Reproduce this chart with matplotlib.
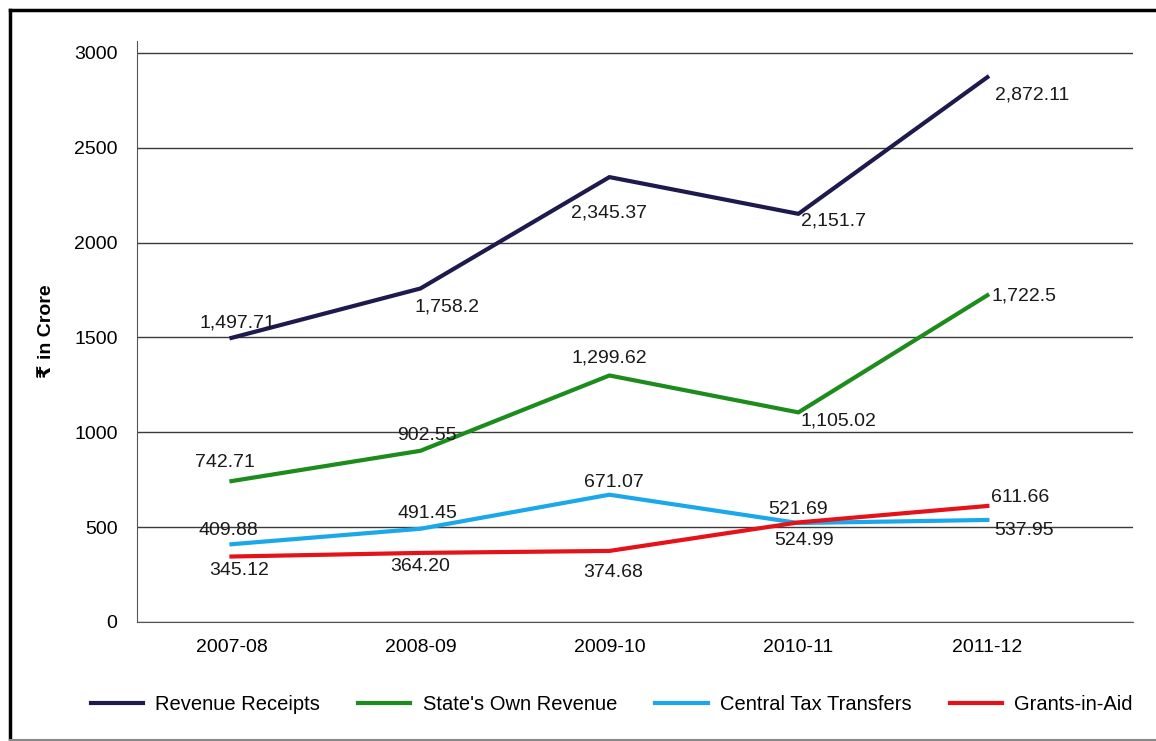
import numpy as np
import matplotlib.pyplot as plt
from matplotlib.lines import Line2D

plt.rcParams["font.family"] = ["Liberation Sans", "DejaVu Sans"]

years = ["2007-08", "2008-09", "2009-10", "2010-11", "2011-12"]
revenue_receipts = [1497.71, 1758.2, 2345.37, 2151.7, 2872.11]
states_own = [742.71, 902.55, 1299.62, 1105.02, 1722.5]
central_tax = [409.88, 491.45, 671.07, 521.69, 537.95]
grants = [345.12, 364.20, 374.68, 524.99, 611.66]

rr_labels = ["1,497.71", "1,758.2", "2,345.37", "2,151.7", "2,872.11"]
so_labels = ["742.71", "902.55", "1,299.62", "1,105.02", "1,722.5"]
ct_labels = ["409.88", "491.45", "671.07", "521.69", "537.95"]
ga_labels = ["345.12", "364.20", "374.68", "524.99", "611.66"]

fig = plt.figure(figsize=(11.56, 7.41), dpi=100)
ax = fig.add_axes([0.1185, 0.1606, 0.980 - 0.1185, 0.9447 - 0.1606])

x = np.arange(len(years))

# grid first so lines sit on top
ax.set_yticks([0, 500, 1000, 1500, 2000, 2500, 3000])
ax.yaxis.grid(True, color="#3a3a3a", linewidth=1.0)
ax.set_axisbelow(True)

ax.plot(x, revenue_receipts, color="#1e1a4e", linewidth=3, label="Revenue Receipts")
ax.plot(x, states_own, color="#1c8c1c", linewidth=3, label="State's Own Revenue")
ax.plot(x, central_tax, color="#1ba8ea", linewidth=3, label="Central Tax Transfers")
ax.plot(x, grants, color="#e5121a", linewidth=3, label="Grants-in-Aid")

# label offsets in pixels (dx, dy)
rr_off = [(6, 15), (27, -19), (0, -36), (35, -7), (45, -18)]
so_off = [(-7, 19), (6, 15), (0, 17), (40, -9), (37, -1)]
ct_off = [(-3, 14), (7, 15), (4, 12), (0, 14), (37, -11)]
ga_off = [(8, -14), (0, -14), (4, -22), (6, -18), (33, 8)]

for vals, labs, offs in [(revenue_receipts, rr_labels, rr_off),
                         (states_own, so_labels, so_off),
                         (central_tax, ct_labels, ct_off),
                         (grants, ga_labels, ga_off)]:
    for i in range(len(vals)):
        ax.annotate(labs[i], (x[i], vals[i]), xytext=offs[i], textcoords="offset pixels",
                    ha="center", va="center", fontsize=14, color="#1a1a1a")

ax.set_xlim(-0.5, 4.77)
ax.set_ylim(0, 3063)
ax.set_xticks(x)
ax.set_xticklabels(years)
ax.tick_params(axis="x", length=0, pad=12, labelsize=14)
ax.tick_params(axis="y", length=0, pad=14, labelsize=14)
ax.spines["top"].set_visible(False)
ax.spines["right"].set_visible(False)
ax.spines["left"].set_color("#555555")
ax.spines["bottom"].set_color("#555555")
ax.set_ylabel("₹ in Crore", fontsize=14, fontweight="bold", labelpad=14)

fig.legend(loc="center", bbox_to_anchor=(0.529, 1 - 705 / 741), ncol=4, frameon=False,
           fontsize=14.5, handlelength=2.6, handletextpad=0.6, columnspacing=1.9)

# outer frame (left, top, bottom)
fig.add_artist(Line2D([0.009, 0.009], [0.0, 0.986], color="black", linewidth=2.5))
fig.add_artist(Line2D([0.009, 1.0], [0.986, 0.986], color="black", linewidth=2.5))
fig.add_artist(Line2D([0.009, 1.0], [0.002, 0.002], color="#888888", linewidth=1.5))

fig.savefig("out.png", dpi=100, facecolor="white")
